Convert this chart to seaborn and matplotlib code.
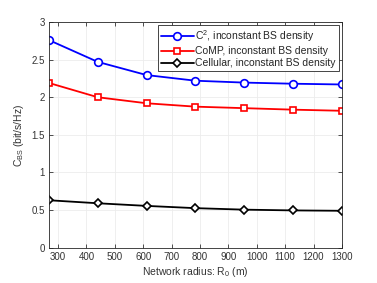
import pandas as pd
import numpy as np
import seaborn as sns
import matplotlib.pyplot as plt

radius = [268, 440, 612, 784, 956, 1128, 1300]
c2 = [2.76, 2.47, 2.295, 2.22, 2.195, 2.18, 2.17]
comp = [2.19, 2.00, 1.92, 1.875, 1.855, 1.835, 1.82]
cellular = [0.63, 0.59, 0.555, 0.525, 0.505, 0.495, 0.49]

labels = ["C$^2$, inconstant BS density",
          "CoMP, inconstant BS density",
          "Cellular, inconstant BS density"]
colors = ["#0000ff", "#ff0000", "#000000"]
markers = ["o", "s", "D"]
msizes = [5.5, 4.5, 4.5]

df = pd.DataFrame({
    "radius": radius * 3,
    "rate": c2 + comp + cellular,
    "scheme": np.repeat(labels, len(radius)),
})

sns.set_style("whitegrid")
plt.rcParams["font.family"] = ["Liberation Sans", "DejaVu Sans"]
plt.rcParams["mathtext.fontset"] = "custom"
plt.rcParams["mathtext.rm"] = "Liberation Sans"
plt.rcParams["mathtext.it"] = "Liberation Sans"

fig = plt.figure(figsize=(3.77, 2.83), dpi=100)
ax = fig.add_axes([0.130, 0.125, 0.777, 0.797])

for lab, col, mk, ms in zip(labels, colors, markers, msizes):
    sub = df[df["scheme"] == lab]
    sns.lineplot(data=sub, x="radius", y="rate", ax=ax, color=col, marker=mk,
                 markersize=ms, markerfacecolor="white",
                 markeredgecolor=col, markeredgewidth=1.2, linewidth=1.3,
                 label=lab)

ax.set_xlim(268, 1300)
ax.set_ylim(0, 3)
ax.set_xticks(np.arange(300, 1301, 100))
ax.set_yticks(np.arange(0, 3.01, 0.5))
ax.set_yticklabels(["0", "0.5", "1", "1.5", "2", "2.5", "3"])
ax.grid(True, color="#ececec", linewidth=0.6)
for s in ax.spines.values():
    s.set_color("#262626")
    s.set_linewidth(0.6)
ax.tick_params(direction="in", length=3, width=0.6, labelsize=7,
               colors="#333333", top=True, right=True, pad=3)
ax.tick_params(axis="both", which="both", left=True, bottom=True)
ax.set_xlabel("Network radius: R$_0$ (m)", fontsize=7.5, color="#333333", labelpad=2)
ax.set_ylabel("C$_{\\mathrm{BS}}$ (bit/s/Hz)", fontsize=7.5, color="#333333", labelpad=4)

leg = ax.legend(loc="upper right", fontsize=7.5, frameon=True, fancybox=False,
                edgecolor="#262626", framealpha=1, borderpad=0.3, labelspacing=0.2,
                handlelength=3.2, handletextpad=0.1, borderaxespad=0.3)
leg.get_frame().set_linewidth(0.6)

fig.savefig("out.png", dpi=100)
